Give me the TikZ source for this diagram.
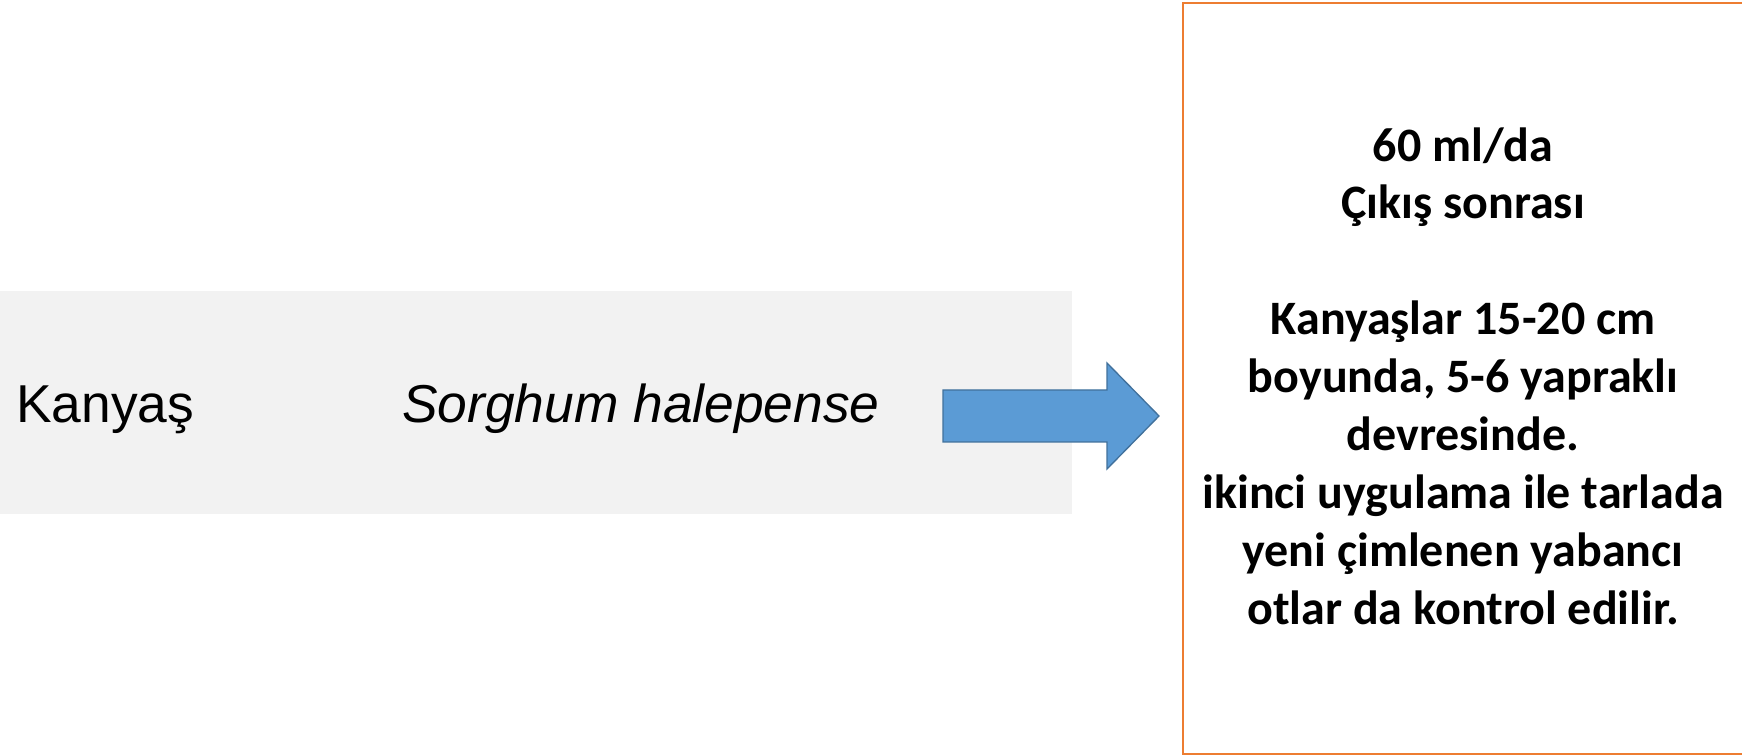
\documentclass[tikz,border=0pt]{standalone}
\usepackage{fontspec}
\setmainfont{Liberation Sans}
\newfontfamily\calib{Carlito}
\definecolor{bandgray}{HTML}{F2F2F2}
\definecolor{arrowfill}{HTML}{5B9BD5}
\definecolor{arrowline}{HTML}{41719C}
\definecolor{boxorange}{HTML}{ED7D31}
\tikzset{
  band/.style={fill=bandgray, draw=none},
  bigarrow/.style={fill=arrowfill, draw=arrowline, line width=1pt, line join=miter},
  infobox/.style={draw=boxorange, line width=1.6pt, fill=white},
  lefttext/.style={anchor=base west, inner sep=0pt, font=\fontsize{40}{48}\selectfont},
  boxtext/.style={anchor=base, inner sep=0pt, align=center, font=\calib\bfseries\fontsize{36}{43.4}\selectfont}
}
\begin{document}
\begin{tikzpicture}[x=0.75pt, y=-0.75pt]
\useasboundingbox (0,0) rectangle (1742,755);
\fill[white] (0,0) rectangle (1742,755);
\path[band] (0,291) rectangle (1072,514);
\node[lefttext] (kanyas) at (16,422) {Kanyaş};
\node[lefttext] (latin) at (402,422) {\itshape Sorghum halepense};
\draw[bigarrow] (943,390) -- (1107,390) -- (1107,363) -- (1159,416) -- (1107,469) -- (1107,442) -- (943,442) -- cycle;
\draw[infobox] (1183,3) rectangle (1750,754);
\node[boxtext] (info) at (1463,624) {60 ml/da\\Çıkış sonrası\\[43.4pt]Kanyaşlar 15-20 cm\\boyunda, 5-6 yapraklı\\devresinde.\\ikinci uygulama ile tarlada\\yeni çimlenen yabancı\\otlar da kontrol edilir.};
\end{tikzpicture}
\end{document}
